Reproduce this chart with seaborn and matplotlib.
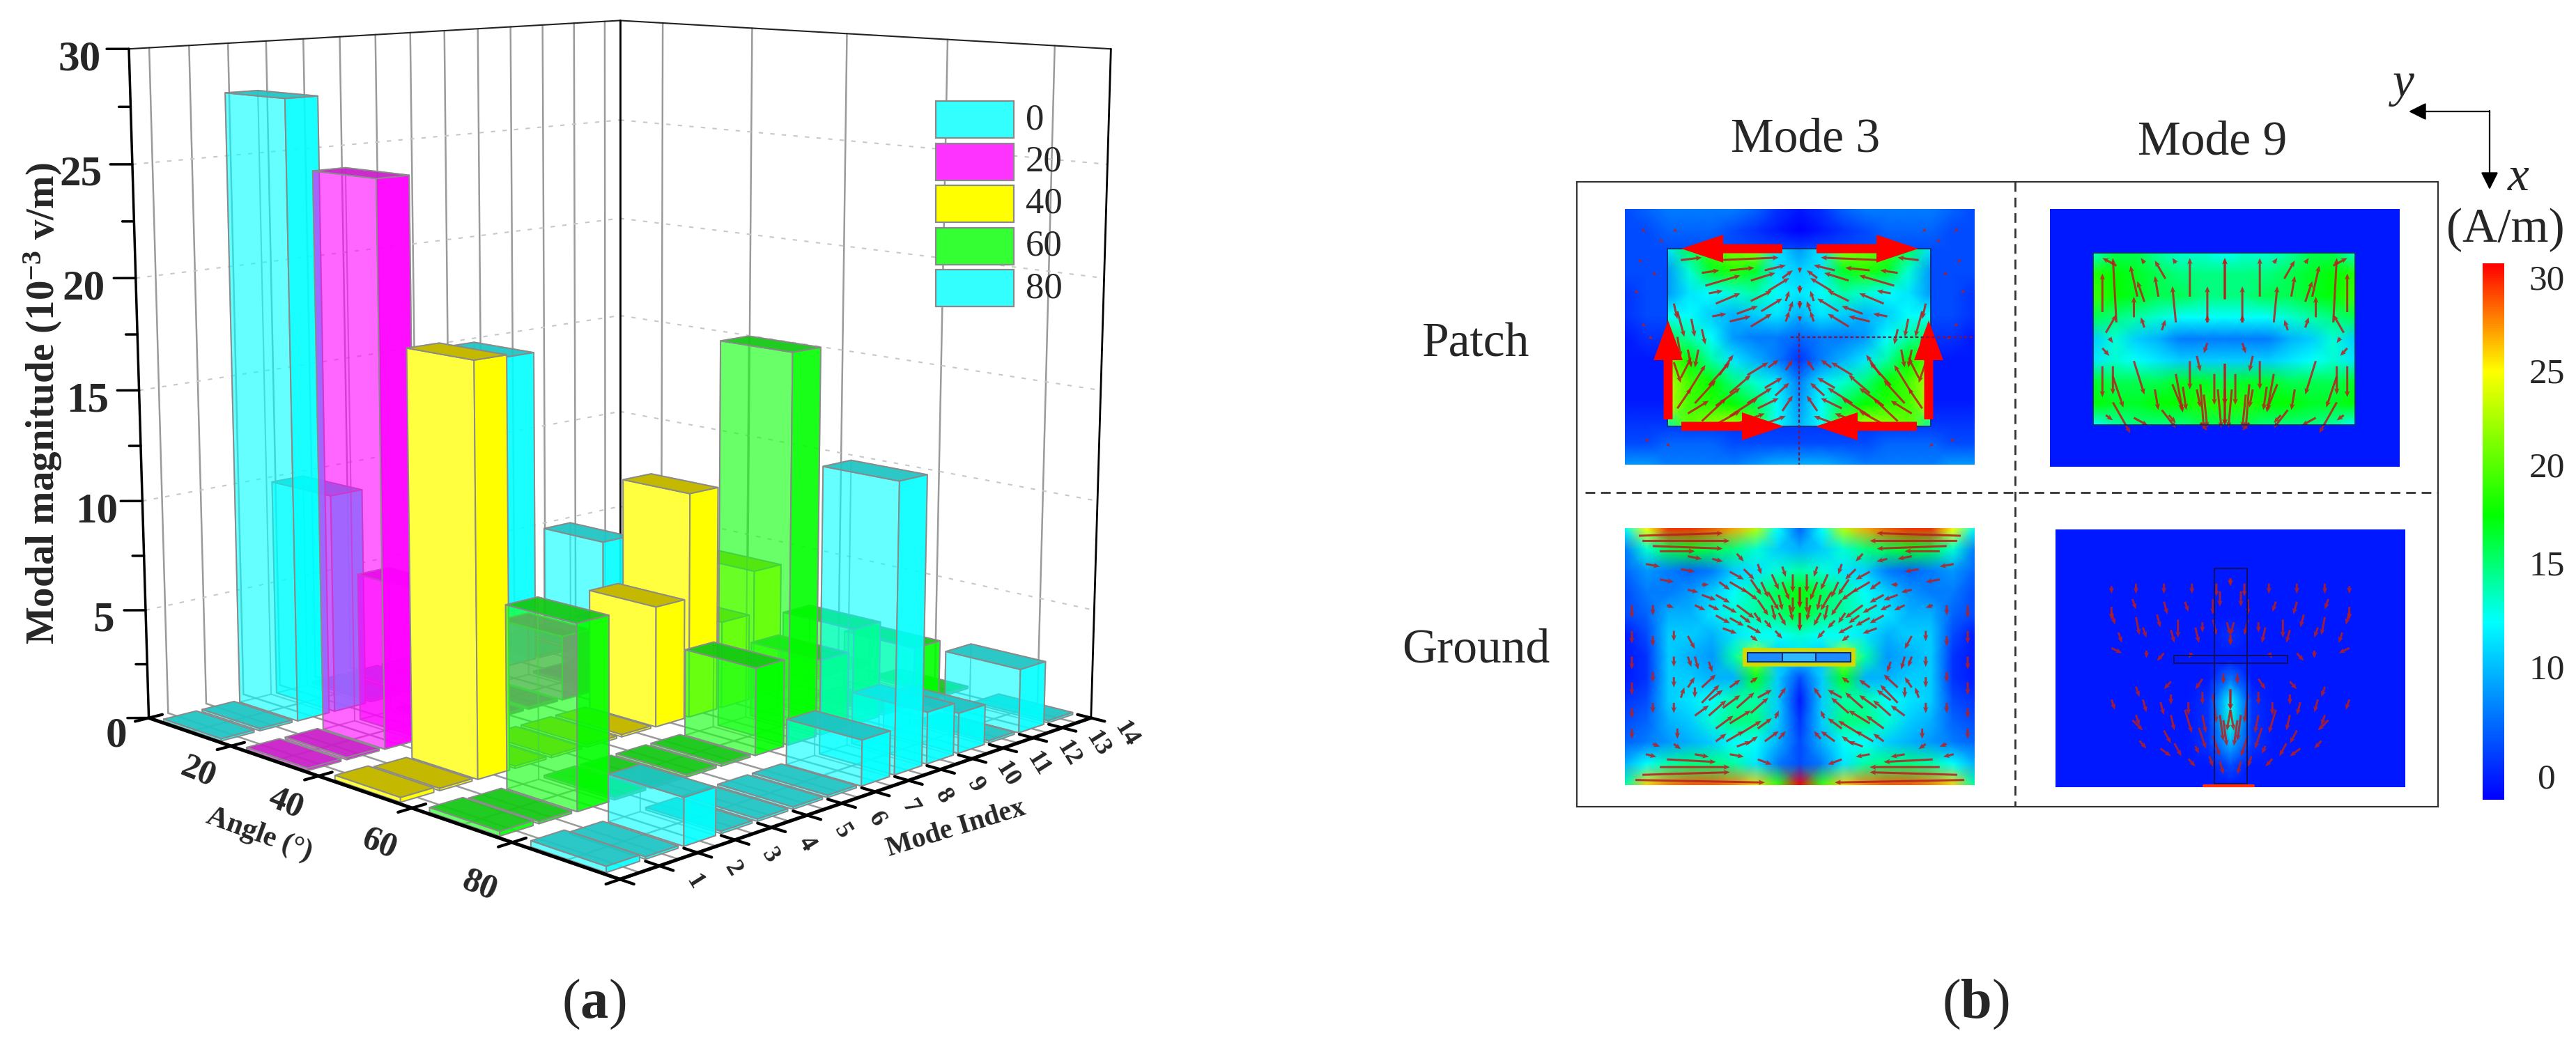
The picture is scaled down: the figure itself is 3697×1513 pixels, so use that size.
import matplotlib
matplotlib.use("Agg")
import matplotlib.pyplot as plt
import numpy as np
import seaborn as sns
from matplotlib.colors import LinearSegmentedColormap
from matplotlib.patches import Rectangle
from mpl_toolkits.mplot3d import proj3d

W, H = 3697, 1513

# (a) modal magnitude per mode, one list per angle
mode_index = list(range(1, 15))
angle_groups = [0, 20, 40, 60, 80]
angle0 = [.1, .1, 27.9, 10, .1, .1, .1, .1, 15, .1, .1, 5, .1, .1]
angle20 = [.1, .1, 24.9, 6.7, .1, .1, .1, 3, .1, .1, .1, .1, .1, .1]
angle40 = [.2, .1, 17.9, .1, .1, .1, .1, 5.5, 10.3, 4, 6, .1, .1, .1]
angle60 = [.2, .1, 7.9, .1, .1, .1, .1, 3.9, 17.4, 3.4, 4.4, .1, 2.7, .1]
angle80 = [.25, .1, 2, .1, .1, .1, .1, 2, 12.7, 2.3, 1.8, .1, 2.9, .1]
magnitudes = [angle0, angle20, angle40, angle60, angle80]
z_ticks = [0, 5, 10, 15, 20, 25, 30]

# faces: left side, right side, top
face_colors = {
    0: ["#00FFFF99", "#00FFFFE6", "#1FC4C4F0"],
    20: ["#FF00FF99", "#FF00FFF2", "#C81EC8F0"],
    40: ["#FFFF40FF", "#FFFF00FF", "#C4B800FF"],
    60: ["#19FF19A6", "#00FF00E6", "#14C814F0"],
    80: ["#00FFFF99", "#00FFFFE6", "#1FC4C4F0"],
}
legend_colors = ["#33FFFF", "#FF33FF", "#FFFF00", "#33FF33", "#33FFFF"]

# (b) surface current, A/m, 13 rows x 17 columns
patch_mode3 = [
    [3, 4, 5, 5, 5, 5, 4, 2, 1, 2, 4, 5, 5, 5, 5, 4, 3],
    [3, 3, 4, 4, 4, 3, 2, 1, 0, 1, 2, 3, 4, 4, 4, 3, 3],
    [3, 3, 9, 14, 18, 20, 21, 9, 6, 9, 21, 20, 18, 14, 9, 3, 3],
    [3, 3, 6, 11, 15, 17, 15, 9, 8, 9, 15, 17, 15, 11, 6, 3, 3],
    [2, 3, 6, 9, 10, 11, 12, 10, 9, 10, 12, 11, 10, 9, 6, 3, 2],
    [2, 3, 10, 10, 8, 7, 8, 9, 7, 9, 8, 7, 8, 10, 10, 3, 2],
    [1, 2, 14, 12, 10, 6, 5, 5, 4, 5, 5, 6, 10, 12, 14, 2, 1],
    [1, 1, 19, 16, 12, 9, 7, 5, 2, 5, 7, 9, 12, 16, 19, 1, 1],
    [1, 1, 22, 18, 16, 13, 11, 9, 5, 9, 11, 13, 16, 18, 22, 1, 1],
    [1, 1, 22, 18, 17, 16, 14, 10, 6, 10, 14, 16, 17, 18, 22, 1, 1],
    [2, 2, 12, 19, 21, 22, 18, 10, 7, 10, 18, 22, 21, 19, 12, 2, 2],
    [3, 3, 4, 4, 4, 3, 3, 3, 3, 3, 3, 3, 4, 4, 4, 3, 3],
    [6, 6, 5, 5, 5, 5, 6, 7, 7, 7, 6, 5, 5, 5, 5, 6, 6],
]
patch_mode9 = [
    [1, 1, 1, 1, 1, 1, 1, 1, 1, 1, 1, 1, 1, 1, 1, 1, 1],
    [1, 1, 1, 1, 1, 1, 1, 1, 1, 1, 1, 1, 1, 1, 1, 1, 1],
    [1, 1, 11, 14, 14, 12, 11, 11, 10, 11, 11, 12, 14, 14, 11, 1, 1],
    [1, 1, 17, 16, 15, 14, 13, 13, 13, 13, 13, 14, 15, 16, 17, 1, 1],
    [1, 1, 18, 16, 15, 14, 14, 13, 13, 13, 14, 14, 15, 16, 18, 1, 1],
    [1, 1, 14, 13, 12, 11, 10, 10, 10, 10, 10, 11, 12, 13, 14, 1, 1],
    [1, 1, 8, 11, 8, 7, 5, 5, 5, 5, 5, 7, 8, 11, 8, 1, 1],
    [1, 1, 9, 11, 10, 9, 8, 8, 8, 8, 8, 9, 10, 11, 9, 1, 1],
    [1, 1, 15, 14, 14, 14, 15, 15, 14, 15, 15, 14, 14, 14, 15, 1, 1],
    [1, 1, 16, 15, 15, 16, 16, 17, 17, 17, 16, 16, 15, 15, 16, 1, 1],
    [1, 1, 10, 12, 13, 13, 13, 14, 14, 14, 13, 13, 13, 12, 10, 1, 1],
    [1, 1, 1, 1, 1, 1, 1, 1, 1, 1, 1, 1, 1, 1, 1, 1, 1],
    [1, 1, 1, 1, 1, 1, 1, 1, 1, 1, 1, 1, 1, 1, 1, 1, 1],
]
ground_mode3 = [
    [10, 24, 29, 29, 28, 26, 22, 10, 4, 10, 22, 26, 28, 29, 29, 24, 10],
    [5, 11, 14, 15, 14, 13, 11, 8, 7, 8, 11, 13, 14, 15, 14, 11, 5],
    [4, 6, 5, 4, 5, 8, 9, 11, 12, 11, 9, 8, 5, 4, 5, 6, 4],
    [3, 5, 5, 6, 8, 10, 12, 14, 16, 14, 12, 10, 8, 6, 5, 5, 3],
    [3, 4, 7, 7, 9, 11, 12, 13, 15, 13, 12, 11, 9, 7, 7, 4, 3],
    [1, 3, 8, 8, 7, 9, 10, 10, 11, 10, 10, 9, 7, 8, 8, 3, 1],
    [1, 2, 8, 7, 6, 12, 22, 8, 9, 8, 22, 12, 6, 7, 8, 2, 1],
    [1, 2, 8, 8, 7, 7, 15, 8, 3, 8, 15, 7, 7, 8, 8, 2, 1],
    [2, 3, 8, 9, 10, 12, 12, 8, 1, 8, 12, 12, 10, 9, 8, 3, 2],
    [3, 4, 7, 8, 11, 13, 13, 8, 2, 8, 13, 13, 11, 8, 7, 4, 3],
    [4, 5, 6, 7, 8, 10, 10, 7, 3, 7, 10, 10, 8, 7, 6, 5, 4],
    [7, 10, 12, 13, 13, 12, 9, 5, 3, 5, 9, 12, 13, 13, 12, 10, 7],
    [12, 25, 27, 28, 28, 27, 25, 18, 30, 18, 25, 27, 28, 28, 27, 25, 12],
]
ground_mode9 = [
    [1, 1, 1, 1, 1, 1, 1, 1, 1, 1, 1, 1, 1, 1, 1, 1, 1],
    [1, 1, 1, 1, 1, 1, 1, 1, 1, 1, 1, 1, 1, 1, 1, 1, 1],
    [1, 1, 1, 1, 1, 1, 1, 1, 1, 1, 1, 1, 1, 1, 1, 1, 1],
    [1, 1, 1, 1, 1, 1, 1, 1, 1, 1, 1, 1, 1, 1, 1, 1, 1],
    [1, 1, 1, 1, 1, 1, 1, 1, 1, 1, 1, 1, 1, 1, 1, 1, 1],
    [1, 1, 1, 1, 1, 1, 1, 1, 2, 1, 1, 1, 1, 1, 1, 1, 1],
    [1, 1, 1, 1, 1, 1, 1, 1, 1, 1, 1, 1, 1, 1, 1, 1, 1],
    [1, 1, 1, 1, 1, 1, 1, 1, 5, 1, 1, 1, 1, 1, 1, 1, 1],
    [1, 1, 1, 1, 1, 1, 1, 2, 10, 2, 1, 1, 1, 1, 1, 1, 1],
    [1, 1, 1, 1, 1, 1, 1, 2, 11, 2, 1, 1, 1, 1, 1, 1, 1],
    [1, 1, 1, 1, 1, 1, 1, 2, 7, 2, 1, 1, 1, 1, 1, 1, 1],
    [1, 1, 1, 1, 1, 1, 1, 1, 3, 1, 1, 1, 1, 1, 1, 1, 1],
    [1, 1, 1, 1, 1, 1, 1, 1, 1, 1, 1, 1, 1, 1, 1, 1, 1],
]
# metal outline of each map as a fraction of the map: x0, x1, y0, y1 (None: no sharp edge)
map_inner = [(.1215, .874, .155, .85), (.1235, .8725, .17, .838), None, None]

# current arrows, left half of each map, percent of map (x0, y0, x1, y1)
arrows_p3 = [
    (16, 20, 22, 19), (27, 20, 44, 19), (22, 25, 27, 24), (30, 24, 37, 23), (40, 24, 46, 22),
    (23, 30, 33, 26), (36, 28, 43, 25), (45, 27, 48, 24), (24, 33, 28, 32), (26, 37, 33, 33),
    (36, 36, 42, 32), (41, 32, 47, 27), (46, 36, 47, 32), (25, 42, 29, 41), (32, 41, 38, 38),
    (39, 40, 45, 35), (47, 40, 48, 36), (30, 44, 36, 42), (36, 46, 42, 41), (46, 44, 47, 40),
    (14, 37, 15, 43), (15, 40, 17, 50), (19, 43, 20, 50), (22, 47, 23, 53), (15, 50, 16, 58),
    (18, 55, 19, 62), (21, 55, 20, 62), (14, 60, 16, 68), (16, 66, 19, 58), (18, 72, 23, 61),
    (15, 78, 19, 70), (20, 76, 26, 67), (24, 69, 30, 60), (27, 65, 31, 57), (18, 80, 24, 75),
    (22, 83, 29, 74), (26, 77, 33, 70), (30, 72, 36, 65), (35, 65, 41, 60), (25, 85, 33, 79),
    (30, 81, 38, 74), (35, 76, 42, 70), (40, 70, 45, 66), (41, 62, 44, 59), (32, 84, 40, 80),
    (38, 78, 44, 74), (43, 73, 47, 68), (40, 84, 46, 81), (45, 79, 48, 73), (46, 63, 48, 59),
    (50, 23, 50, 25), (50, 30, 50, 33), (50, 36, 50, 39), (50, 42, 50, 44),
    (5, 8, 6, 9), (10, 12, 11, 13), (14, 8, 15, 9), (4, 20, 5, 21), (8, 25, 9, 26),
    (3, 32, 4, 33), (5, 45, 6, 46), (7, 50, 8, 51), (6, 90, 7, 91), (12, 92, 13, 93),
]
arrows_p9 = [
    (15, 40, 15, 25), (19, 44, 18, 19), (16, 48, 19, 41), (24, 42, 24, 34), (25, 34, 23, 22),
    (27, 36, 25, 28), (31, 34, 30, 26), (33, 27, 30, 20), (36, 44, 35, 30), (40, 34, 40, 19),
    (45, 44, 45, 30), (50, 35, 50, 19), (19, 22, 15, 19), (27, 21, 26, 19), (36, 21, 35, 19),
    (27, 46, 26, 42), (32, 47, 33, 43), (45, 44, 45, 41), (17, 50, 18, 52), (15, 54, 17, 57),
    (15, 61, 15, 73), (18, 61, 18, 72), (18, 65, 21, 77), (18, 75, 23, 87), (24, 59, 27, 72),
    (30, 70, 31, 78), (36, 64, 38, 79), (40, 59, 40, 70), (35, 68, 38, 78), (38, 69, 39, 78),
    (42, 70, 43, 77), (42, 57, 43, 63), (44, 72, 45, 85), (45, 52, 44, 56), (47, 64, 47, 76),
    (50, 60, 50, 76), (50, 70, 50, 84), (43, 83, 45, 86), (32, 78, 36, 85), (24, 81, 28, 84),
    (34, 80, 36, 83), (16, 80, 18, 82), (43, 68, 44, 85), (48, 70, 49, 85),
]
arrows_g3 = [
    (30, 17, 34, 20), (30, 21, 35, 25), (34, 24, 38, 28), (26, 26, 30, 29), (28, 30, 32, 33),
    (32, 30, 37, 35), (38, 28, 41, 34), (36, 20, 39, 26), (42, 18, 44, 24), (41, 25, 44, 32),
    (45, 21, 47, 28), (47, 30, 48, 36), (48, 18, 48, 25), (44, 33, 46, 38), (40, 36, 42, 39),
    (35, 38, 39, 41), (30, 35, 34, 38), (26, 34, 30, 37), (45, 15, 46, 19), (38, 14, 39, 18),
    (32, 10, 34, 13), (50, 23, 50, 31), (50, 33, 50, 40), (22, 62, 26, 57), (22, 68, 27, 61),
    (24, 73, 29, 67), (28, 70, 33, 65), (30, 76, 36, 71), (32, 70, 37, 64), (26, 78, 31, 73),
    (33, 80, 39, 75), (36, 72, 41, 66), (38, 66, 42, 63), (29, 83, 34, 79), (38, 78, 42, 74),
    (40, 83, 44, 79), (43, 74, 44, 71), (32, 85, 36, 83), (44, 66, 46, 62), (2, 30, 2, 35),
    (2, 40, 2, 45), (2, 50, 2, 55), (2, 60, 2, 65), (2, 70, 2, 74), (2, 78, 2, 82),
    (14, 40, 14, 44), (14, 50, 14, 54), (14, 58, 14, 62), (14, 68, 14, 72), (18, 42, 20, 47),
    (20, 50, 21, 55), (15, 78, 15, 82), (10, 20, 14, 21), (16, 16, 20, 17), (6, 14, 10, 15),
    (22, 22, 24, 22), (8, 84, 10, 85), (14, 84, 16, 86), (20, 88, 24, 89), (18, 62, 20, 58),
    (16, 66, 17, 62), (4, 3, 28, 2), (5, 5, 30, 5), (8, 7, 28, 8), (10, 9, 20, 9),
    (5, 96, 30, 95), (10, 93, 30, 93), (3, 98, 40, 99), (12, 90, 26, 91),
    (34, 16, 37, 20), (27, 21, 30, 24), (22, 26, 26, 28), (24, 30, 27, 32), (33, 34, 36, 37),
    (39, 21, 41, 27), (44, 26, 45, 32), (37, 33, 39, 37), (42, 30, 43, 36), (48, 27, 48, 33),
    (28, 39, 32, 41), (36, 42, 38, 44), (43, 40, 45, 43), (20, 30, 23, 32), (18, 24, 21, 25),
    (25, 12, 28, 13), (18, 11, 22, 12), (24, 67, 28, 63), (20, 73, 24, 69), (26, 83, 29, 80),
    (35, 84, 38, 81), (44, 82, 46, 79), (36, 60, 38, 58), (30, 62, 33, 59), (8, 30, 8, 34),
    (8, 42, 8, 46), (8, 56, 8, 60), (8, 68, 8, 72), (20, 62, 20, 66), (18, 50, 19, 54),
    (24, 52, 25, 56), (12, 30, 14, 31), (30, 88, 34, 89), (38, 90, 42, 92), (6, 88, 9, 89),
]
arrows_g9 = [
    (16, 22, 16, 25), (23, 21, 23, 25), (31, 21, 31, 25), (39, 21, 39, 25), (46, 21, 46, 26),
    (50, 19, 50, 22), (22, 27, 23, 31), (16, 30, 16, 35), (31, 28, 32, 33), (37, 28, 38, 32),
    (45, 27, 45, 33), (47, 24, 47, 30), (16, 32, 17, 37), (23, 34, 24, 41), (29, 33, 30, 38),
    (35, 35, 35, 42), (40, 38, 41, 44), (45, 35, 46, 41), (49, 36, 50, 41), (50, 41, 50, 45),
    (18, 40, 19, 44), (25, 38, 26, 42), (33, 39, 34, 44), (42, 36, 42, 40), (16, 46, 19, 48),
    (26, 47, 26, 50), (31, 48, 29, 51), (39, 48, 38, 50), (33, 59, 31, 62), (42, 58, 40, 62),
    (48, 56, 48, 60), (23, 61, 24, 65), (33, 64, 33, 68), (42, 63, 42, 68), (50, 62, 50, 70),
    (16, 66, 17, 70), (25, 66, 26, 71), (30, 67, 31, 72), (38, 67, 38, 72), (45, 64, 46, 75),
    (50, 70, 49, 78), (23, 72, 24, 76), (33, 72, 34, 78), (37, 70, 39, 79), (42, 72, 43, 79),
    (47, 72, 48, 82), (22, 74, 25, 78), (31, 78, 33, 83), (41, 77, 43, 85), (45, 80, 47, 88),
    (48, 74, 49, 84), (24, 82, 26, 85), (34, 83, 36, 88), (30, 85, 33, 88), (40, 84, 41, 87),
    (44, 88, 45, 92), (47, 90, 48, 95), (38, 89, 40, 92),
]

sns.set_theme(style="white")
plt.rcParams["font.family"] = ["Liberation Serif", "DejaVu Serif"]
plt.rcParams["mathtext.fontset"] = "custom"
plt.rcParams["mathtext.rm"] = "Liberation Serif"
plt.rcParams["mathtext.bf"] = "Liberation Serif:bold"
plt.rcParams["mathtext.it"] = "Liberation Serif:italic"

field_cmap = LinearSegmentedColormap.from_list("field", [
    (0, "#0000FF"), (.17, "#0080FF"), (.33, "#00FFFF"), (.43, "#00FF80"), (.53, "#00FF00"),
    (.67, "#80FF00"), (.8, "#FFFF00"), (.9, "#FF8000"), (1, "#FF0000")])

fig = plt.figure(figsize=(W / 100, H / 100), dpi=100, facecolor="white")


def px_rect(x0, y0, x1, y1):
    return [x0 / W, 1 - y1 / H, (x1 - x0) / W, (y1 - y0) / H]


# ---- (a) 3D bars ----
ax = fig.add_axes(px_rect(47, -238, 1688, 1403), projection="3d", computed_zorder=False)
ax.set_box_aspect((1, 1, 1), zoom=1)
ax.view_init(elev=10.4, azim=-135)
ax.set_proj_type("persp", focal_length=0.48)
ax.set_xlim(0, 14, view_margin=0)
ax.set_ylim(100, 0, view_margin=0)
ax.set_zlim(0, 30, view_margin=0)
ax.set_axis_off()
ax.patch.set_alpha(0)


def at3d(x, y, z):
    # figure pixel (y down) of a point on the 3D axes
    px, py, _ = proj3d.proj_transform(x, y, z, ax.get_proj())
    dx, dy = ax.transData.transform((px, py))
    return dx, H - dy


grey = "#9A9A9A"
# walls and floor
for m in mode_index:
    ax.plot([m - .5] * 2, [0, 0], [0, 30], color=grey, lw=1.8, zorder=1)
    ax.plot([m - .5] * 2, [0, 100], [0, 0], color=grey, lw=1.8, zorder=1)
for a in angle_groups:
    ax.plot([14, 14], [a + 10] * 2, [0, 30], color=grey, lw=1.8, zorder=1)
    ax.plot([0, 14], [a + 10] * 2, [0, 0], color=grey, lw=1.8, zorder=1)
for z in z_ticks[1:-1]:
    ax.plot([0, 14], [0, 0], [z, z], color="#C8C8C8", lw=1.5, ls=(0, (3, 5)), zorder=1)
    ax.plot([14, 14], [0, 100], [z, z], color="#C8C8C8", lw=1.5, ls=(0, (3, 5)), zorder=1)
ax.plot([0, 14], [0, 0], [30, 30], color="#222222", lw=1.5, zorder=2)
ax.plot([14, 14], [0, 100], [30, 30], color="#222222", lw=1.5, zorder=2)
ax.plot([14, 14], [0, 0], [0, 30], color="black", lw=2, zorder=2)
ax.plot([14, 14], [100, 100], [0, 30], color="black", lw=2, zorder=2)
ax.plot([0, 0], [0, 0], [0, 30], color="black", lw=2.5, zorder=2)

# bars far to near so the transparency stacks the right way
order = 10
for i, a in enumerate(angle_groups):
    left, right, top = face_colors[a]
    for j in range(len(mode_index) - 1, -1, -1):
        m = mode_index[j]
        # bottom, top, -y, +y, -x, +x
        faces = ["#00000000", top, "#00000000", right, left, "#00000000"]
        edges = ["#00000000", "#8A8A8A", "#00000000", "#8A8A8A", "#8A8A8A", "#00000000"]
        if magnitudes[i][j] > 1:
            edges = ["#8A8A8A80", "#8A8A8A", "#8A8A8A80", "#8A8A8A", "#8A8A8A", "#8A8A8A80"]
        ax.bar3d(m - .925, a + 3, 0, .85, 14, magnitudes[i][j], color=faces, shade=False,
                 edgecolors=edges, linewidths=1.4, zorder=order)
        order += 1

# axes lines and ticks
ax.plot([0, 0], [0, 100], [0, 0], color="black", lw=3.6, zorder=500)
ax.plot([0, 14], [100, 100], [0, 0], color="black", lw=3.6, zorder=500)
for a in [0, 20, 40, 60, 80, 100]:
    ax.plot([-.35, .35], [a, a], [0, 0], color="black", lw=3, zorder=500)
for m in range(0, 15):
    ax.plot([m, m], [97.5, 102.5], [0, 0], color="black", lw=3, zorder=500)
for z in np.arange(0, 30.1, 2.5):
    tick = .32 if z % 5 == 0 else .17
    ax.plot([-tick, 0], [-tick * 7, 0], [z, z], color="black", lw=2.5, zorder=500)

# ---- (b) current maps ----
map_boxes = [(2332, 300, 2834, 667), (2942, 300, 3444, 670), (2332, 758, 2834, 1127), (2950, 760, 3452, 1130)]
map_fields = [patch_mode3, patch_mode9, ground_mode3, ground_mode9]
map_arrows = [arrows_p3, arrows_p9, arrows_g3, arrows_g9]
for box, field, arrows, inner in zip(map_boxes, map_fields, map_arrows, map_inner):
    mx = fig.add_axes(px_rect(*box))
    values = np.array(field, dtype=float)
    rows, cols = values.shape
    outer = values.copy()
    if inner is not None:
        # keep the metal edge crisp: background first, the conductor on top of it
        outer[2:11, 2:15] = outer[2:11, 1:2]
    sns.heatmap(outer, ax=mx, cmap=field_cmap, vmin=0, vmax=30, cbar=False, shading="gouraud",
                xticklabels=False, yticklabels=False)
    mx.set_xlim(0, cols - 1)
    mx.set_ylim(rows - 1, 0)
    if inner is not None:
        xi = np.linspace(inner[0], inner[1], 13) * (cols - 1)
        yi = np.linspace(inner[2], inner[3], 9) * (rows - 1)
        mx.pcolormesh(xi, yi, values[2:11, 2:15], cmap=field_cmap, vmin=0, vmax=30, shading="gouraud")
    half = np.array(arrows, dtype=float)
    x0 = np.r_[half[:, 0], 100 - half[:, 0]] / 100 * (cols - 1)
    x1 = np.r_[half[:, 2], 100 - half[:, 2]] / 100 * (cols - 1)
    y0 = np.r_[half[:, 1], half[:, 1]] / 100 * (rows - 1)
    y1 = np.r_[half[:, 3], half[:, 3]] / 100 * (rows - 1)
    mx.quiver(x0, y0, x1 - x0, y1 - y0, angles="xy", scale_units="xy", scale=1, units="dots",
              width=3, headwidth=2.5, headlength=3, headaxislength=2.5, color="#B81E1E", alpha=.85)

cax = fig.add_axes(px_rect(3563, 378, 3594, 1148))
sns.heatmap(np.linspace(30, 0, 256)[:, None], ax=cax, cmap=field_cmap, vmin=0, vmax=30, cbar=False,
            xticklabels=False, yticklabels=False)

# ---- overlay in figure pixels: frames, labels, legend ----
ov = fig.add_axes([0, 0, 1, 1], zorder=50)
ov.set_xlim(0, W)
ov.set_ylim(H, 0)
ov.axis("off")
ov.patch.set_alpha(0)

# tick labels of the 3D axes, set off from their ticks by a few pixels
z_label_dx = [-47, -60, -66, -74, -75, -74, -71]
for z, dx in zip(z_ticks, z_label_dx):
    tx, ty = at3d(0, 0, z)
    ov.text(tx + dx, ty + (26 if z == 0 else 15), str(z), fontsize=44, fontweight="bold", ha="center", va="center")
angle_label_dy = [38, 40, 52, 62]
for a, dy in zip(angle_groups[1:], angle_label_dy):
    tx, ty = at3d(0, a, 0)
    ov.text(tx - 47, ty + dy, str(a), fontsize=36, fontweight="bold", rotation=-22, ha="center", va="center")
for m in mode_index:
    tx, ty = at3d(m, 100, 0)
    ov.text(tx + 50, ty + 23, str(m), fontsize=26, fontweight="bold", rotation=-58, ha="center", va="center")

ov.add_patch(Rectangle((2263, 261), 3499 - 2263, 1158 - 261, fill=False, ec="#333333", lw=1.6))
ov.plot([2892, 2892], [261, 1158], color="#333333", lw=2, ls=(0, (5, 3)))
ov.plot([2275, 3499], [707, 707], color="#333333", lw=2, ls=(0, (5, 3)))

for x0, y0, x1, y1 in [(2393, 357, 2771, 612), (3004, 363, 3380, 610)]:
    ov.add_patch(Rectangle((x0, y0), x1 - x0, y1 - y0, fill=False, ec="#10206A", lw=1.2))
ov.plot([2582, 2582], [478, 667], color="#8A1040", lw=1.6, ls=(0, (2, 1.5)))
ov.plot([2570, 2834], [484, 484], color="#8A1040", lw=1.6, ls=(0, (2, 1.5)))
for tail, tip in [((2558, 357), (2413, 357)), ((2607, 357), (2753, 357)), ((2413, 612), (2560, 612)), ((2751, 612), (2606, 612))]:
    ov.arrow(tail[0], tail[1], tip[0] - tail[0], tip[1] - tail[1], width=13, head_width=40, head_length=60,
             length_includes_head=True, color="#FF0000", lw=0)
for tail, tip in [((2394, 602), (2394, 460)), ((2768, 602), (2768, 460))]:
    ov.arrow(tail[0], tail[1], tip[0] - tail[0], tip[1] - tail[1], width=13, head_width=42, head_length=57,
             length_includes_head=True, color="#FF0000", lw=0)
ov.add_patch(Rectangle((2504, 933), 156, 21, fc="none", ec="#D8D800", lw=4))
ov.add_patch(Rectangle((2508, 937), 148, 13, fc="#1E8CFF", ec="#103070", lw=1.5))
ov.add_patch(Rectangle((2558, 937), 48, 13, fc="#30B8FF", ec="#103070", lw=1.5))
ov.add_patch(Rectangle((3178, 816), 47, 309, fill=False, ec="#101060", lw=1.4))
ov.add_patch(Rectangle((3120, 941), 163, 11, fill=False, ec="#101060", lw=1.4))
ov.plot([3163, 3234], [1128, 1128], color="#FF3010", lw=3)

for x, y, s in [(2591, 201, "Mode 3"), (3175, 205, "Mode 9"), (2118, 495, "Patch"), (2118, 934, "Ground")]:
    ov.text(x, y, s, fontsize=50, ha="center", va="center")
ov.text(3596, 330, "(A/m)", fontsize=50, ha="center", va="center")
ov.text(3449, 121, "y", fontsize=50, style="italic", ha="center", va="center")
ov.text(3614, 256, "x", fontsize=50, style="italic", ha="center", va="center")
ov.annotate("", xy=(3457, 160), xytext=(3573, 160), arrowprops=dict(arrowstyle="-|>", color="black", lw=1.6, mutation_scale=38, shrinkA=0, shrinkB=0))
ov.annotate("", xy=(3573, 272), xytext=(3573, 159), arrowprops=dict(arrowstyle="-|>", color="black", lw=1.6, mutation_scale=38, shrinkA=0, shrinkB=0))
for y, s in zip([403, 537, 672, 813, 962, 1119], ["30", "25", "20", "15", "10", "0"]):
    ov.text(3655, y, s, fontsize=37, ha="center", va="center")

ov.text(852, 1442, r"($\mathbf{a}$)", fontsize=58, ha="center", va="center")
ov.text(2835, 1442, r"($\mathbf{b}$)", fontsize=58, ha="center", va="center")

ov.text(62, 579, r"Modal magnitude (10$^{\mathbf{-3}}$ v/m)", fontsize=41, fontweight="bold", rotation=90, ha="center", va="center")
ov.text(372, 1198, "Angle (°)", fontsize=30, fontweight="bold", rotation=-20, ha="center", va="center")
ov.text(1372, 1190, "Mode Index", fontsize=29, fontweight="bold", rotation=17, ha="center", va="center")

for k, a in enumerate(angle_groups):
    ov.add_patch(Rectangle((1343, 145 + 60.5 * k), 112, 53, fc=legend_colors[k], ec="#8A8A8A", lw=1.6))
    ov.text(1472, 172 + 60.5 * k, str(a), fontsize=38, ha="left", va="center")

fig.savefig("out.png", dpi=100)
